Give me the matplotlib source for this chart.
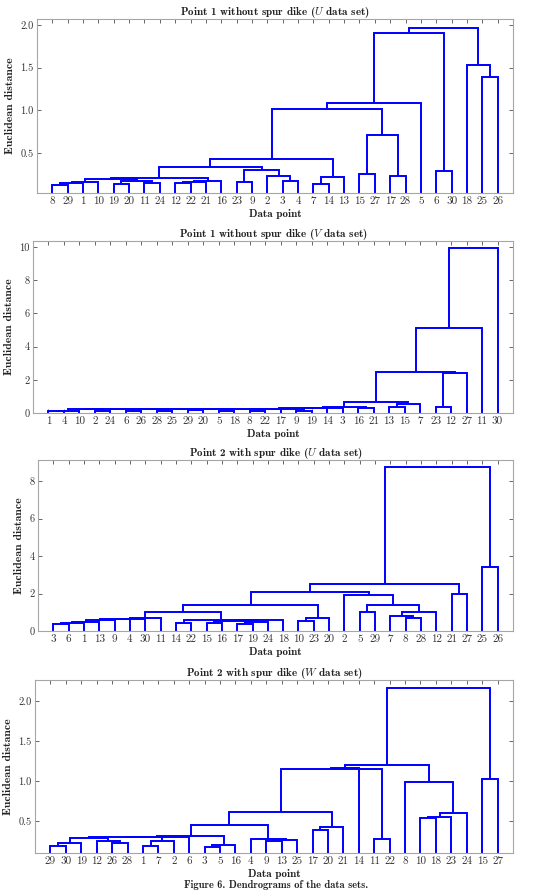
import matplotlib
matplotlib.use('Agg')
import matplotlib.pyplot as plt

plt.rcParams['mathtext.fontset'] = 'cm'
plt.rcParams['axes.unicode_minus'] = False

# leaf order and linkage rows (a, b, height); cluster k gets id 31+k, like MATLAB
order_u1 = [8, 29, 1, 10, 19, 20, 11, 24, 12, 22, 21, 16, 23, 9, 2, 3, 4, 7, 14, 13,
            15, 27, 17, 28, 5, 6, 30, 18, 25, 26]
links_u1 = [(8, 29, 0.12), (31, 1, 0.145), (32, 10, 0.16), (19, 20, 0.13), (11, 24, 0.145),
            (34, 35, 0.17), (33, 36, 0.19), (12, 22, 0.145), (38, 21, 0.16), (39, 16, 0.17),
            (37, 40, 0.2), (23, 9, 0.155), (3, 4, 0.17), (2, 43, 0.235), (42, 44, 0.305),
            (41, 45, 0.33), (7, 14, 0.135), (47, 13, 0.215), (46, 48, 0.43), (15, 27, 0.25),
            (17, 28, 0.225), (50, 51, 0.705), (49, 52, 1.01), (53, 5, 1.085), (6, 30, 0.285),
            (54, 55, 1.9), (25, 26, 1.385), (18, 57, 1.535), (56, 58, 1.97)]

order_v1 = [1, 4, 10, 2, 24, 6, 26, 28, 25, 29, 20, 5, 18, 8, 22, 17, 9, 19, 14, 3,
            16, 21, 13, 15, 7, 23, 12, 27, 11, 30]
links_v1 = [(1, 4, 0.12), (31, 10, 0.15), (2, 24, 0.14), (32, 33, 0.22), (6, 26, 0.13),
            (34, 35, 0.23), (28, 25, 0.15), (36, 37, 0.235), (29, 20, 0.16), (38, 39, 0.24),
            (5, 18, 0.12), (40, 41, 0.245), (8, 22, 0.14), (42, 43, 0.25), (44, 17, 0.26),
            (9, 19, 0.15), (45, 46, 0.27), (47, 14, 0.29), (48, 3, 0.3), (16, 21, 0.3),
            (49, 50, 0.35), (13, 15, 0.36), (52, 7, 0.55), (51, 53, 0.64), (23, 12, 0.36),
            (55, 27, 2.42), (54, 56, 2.47), (57, 11, 5.12), (58, 30, 9.9)]

order_u2 = [3, 6, 1, 13, 9, 4, 30, 11, 14, 22, 15, 16, 17, 19, 24, 18, 10, 23, 20, 2,
            5, 29, 7, 8, 28, 12, 21, 27, 25, 26]
links_u2 = [(3, 6, 0.37), (31, 1, 0.42), (32, 13, 0.5), (33, 9, 0.57), (34, 4, 0.62),
            (35, 30, 0.66), (36, 11, 0.7), (14, 22, 0.45), (15, 16, 0.45), (17, 19, 0.4),
            (40, 24, 0.5), (39, 41, 0.53), (42, 18, 0.57), (38, 43, 0.6), (37, 44, 1.03),
            (10, 23, 0.55), (46, 20, 0.72), (45, 47, 1.37), (5, 29, 1.03), (8, 28, 0.71),
            (7, 50, 0.8), (51, 12, 1.04), (49, 52, 1.37), (2, 53, 1.93), (48, 54, 2.06),
            (21, 27, 1.97), (55, 56, 2.5), (25, 26, 3.42), (57, 58, 8.75)]

order_w2 = [29, 30, 19, 12, 26, 28, 1, 7, 2, 6, 3, 5, 16, 4, 9, 13, 25, 17, 20, 21,
            14, 11, 22, 8, 10, 18, 23, 24, 15, 27]
links_w2 = [(29, 30, 0.19), (31, 19, 0.22), (26, 28, 0.22), (12, 33, 0.245), (32, 34, 0.285),
            (1, 7, 0.19), (36, 2, 0.255), (35, 37, 0.295), (38, 6, 0.305), (3, 5, 0.18),
            (40, 16, 0.2), (39, 41, 0.315), (9, 13, 0.25), (43, 25, 0.26), (4, 44, 0.27),
            (42, 45, 0.45), (17, 20, 0.39), (47, 21, 0.42), (46, 48, 0.61), (11, 22, 0.28),
            (49, 50, 1.145), (51, 14, 1.16), (10, 18, 0.535), (53, 23, 0.545), (54, 24, 0.6),
            (8, 55, 0.985), (52, 56, 1.2), (15, 27, 1.03), (57, 58, 2.16)]

titles = [r'Point 1 without spur dike ($U$ data set)',
          r'Point 1 without spur dike ($V$ data set)',
          r'Point 2 with spur dike ($U$ data set)',
          r'Point 2 with spur dike ($W$ data set)']
yticks = [[0.5, 1.0, 1.5, 2.0], [0, 2, 4, 6, 8, 10], [0, 2, 4, 6, 8], [0.5, 1.0, 1.5, 2.0]]
ytick_fmt = ['%.1f', '%d', '%d', '%.1f']
ylims = [(0.03, 2.07), (0, 10.35), (0, 9.12), (0.1, 2.26)]

# axes boxes in pixels: left, top, right, bottom
boxes = [(37, 19, 513, 193), (33, 241, 513, 413), (38, 460, 513, 631), (35, 680, 513, 853)]

W, H = 553, 891
fig = plt.figure(figsize=(W / 100, H / 100), dpi=100)


def dendro(ax, order, links):
    n = len(order)
    xpos = {leaf: i + 1 for i, leaf in enumerate(order)}
    hgt = {leaf: 0.0 for leaf in order}
    for k, (a, b, h) in enumerate(links):
        xa, xb = xpos[a], xpos[b]
        ax.plot([xa, xa, xb, xb], [hgt[a], h, h, hgt[b]], color='#0000ff', lw=1.4,
                solid_joinstyle='miter', solid_capstyle='butt')
        xpos[n + 1 + k] = (xa + xb) / 2
        hgt[n + 1 + k] = h


data = [(order_u1, links_u1), (order_v1, links_v1), (order_u2, links_u2), (order_w2, links_w2)]
for i, (order, links) in enumerate(data):
    l, t, r, b = boxes[i]
    ax = fig.add_axes([l / W, 1 - b / H, (r - l) / W, (b - t) / H])
    dendro(ax, order, links)
    ax.set_xlim(0, 31)
    ax.set_ylim(*ylims[i])
    ax.set_xticks(range(1, 31))
    ax.set_xticklabels([str(v) for v in order], fontfamily='cmr10', fontsize=8)
    ax.set_yticks(yticks[i])
    ax.set_yticklabels([ytick_fmt[i] % v for v in yticks[i]], fontfamily='cmr10', fontsize=7.5)
    ax.tick_params(direction='in', length=3, width=0.6, color='0.3', pad=2.5,
                   top=True, right=True, labelcolor='#333333')
    for s in ax.spines.values():
        s.set_color('0.65')
        s.set_linewidth(0.8)
    ax.set_title(titles[i], fontfamily='cmb10', fontsize=8, pad=3, color='#222222')
    ax.set_xlabel('Data point', fontfamily='cmb10', fontsize=8, labelpad=2.5, color='#222222')
    ax.set_ylabel('Euclidean distance', fontfamily='cmb10', fontsize=8.5, labelpad=4,
                  color='#222222')

fig.text(0.5, 1 - 885.5 / H, 'Figure 6. Dendrograms of the data sets.', ha='center',
         va='center', fontfamily='cmb10', fontsize=7.5, color='#222222')

fig.savefig('out.png', dpi=100)
